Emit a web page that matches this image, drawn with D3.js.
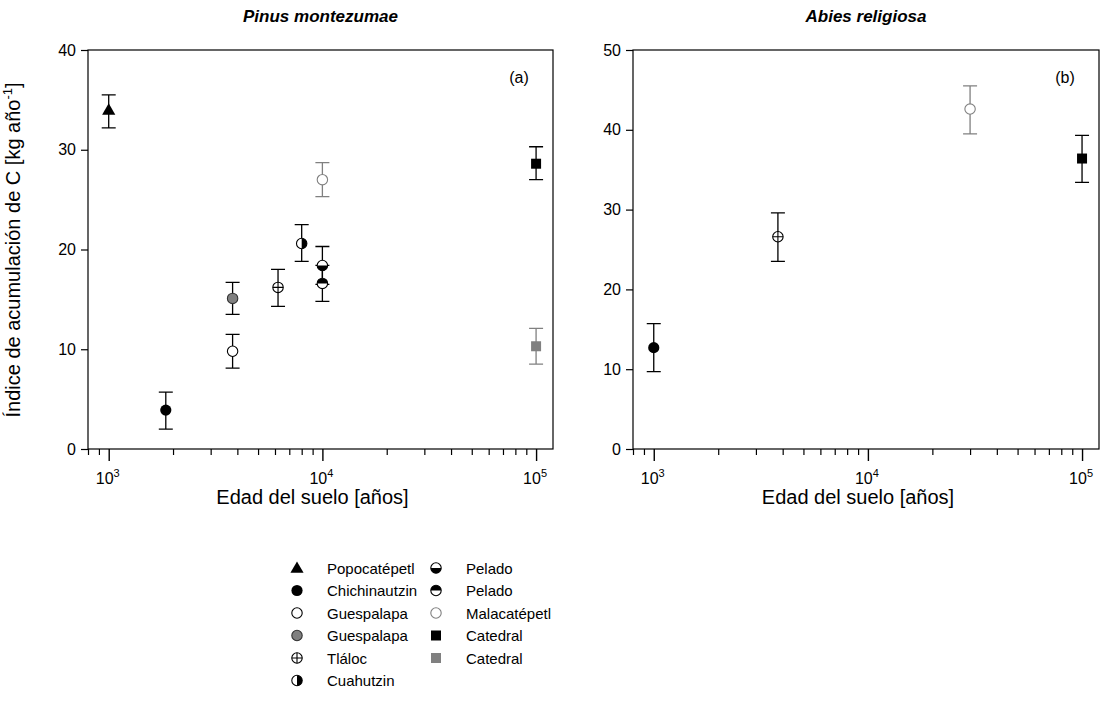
<!DOCTYPE html>
<html>
<head>
<meta charset="utf-8">
<script src="https://cdn.jsdelivr.net/npm/d3@7"></script>
<style>
  body { margin: 0; background: #fff; }
  svg { font-family: "Liberation Sans", Arial, sans-serif; }
</style>
</head>
<body>
<svg id="chart" width="1102" height="704"></svg>
<script>
// legend entries (index = marker key)
const legendLabels = ["Popocatépetl", "Chichinautzin", "Guespalapa", "Guespalapa", "Tláloc", "Cuahutzin",
                      "Pelado", "Pelado", "Malacatépetl", "Catedral", "Catedral"];

// Pinus montezumae
const pinusKey = [0, 1, 2, 3, 4, 5, 6, 7, 8, 9, 10];
const pinusAge = [1000, 1850, 3800, 3800, 6200, 8000, 10000, 10000, 10000, 100000, 100000];
const pinusC = [34.0, 3.9, 9.8, 15.1, 16.2, 20.6, 18.4, 16.6, 27.0, 28.6, 10.3];
const pinusLow = [32.2, 2.0, 8.1, 13.5, 14.3, 18.8, 16.5, 14.8, 25.3, 27.0, 8.5];
const pinusHigh = [35.5, 5.7, 11.5, 16.7, 18.0, 22.5, 20.3, 18.4, 28.7, 30.3, 12.1];

// Abies religiosa
const abiesKey = [1, 4, 8, 9];
const abiesAge = [1000, 3800, 30000, 100000];
const abiesC = [12.7, 26.6, 42.6, 36.4];
const abiesLow = [9.7, 23.5, 39.5, 33.4];
const abiesHigh = [15.7, 29.6, 45.5, 39.3];

const yTicksA = [0, 10, 20, 30, 40];
const yTicksB = [0, 10, 20, 30, 40, 50];
const xMajor = [1000, 10000, 100000];
const xExp = ["3", "4", "5"];

const gray = "#808080";
const svg = d3.select("#chart");

function marker(g, key, cx, cy) {
    let r = 5.2;
    let m = g.append("g").attr("transform", "translate(" + cx + "," + cy + ")");
    let sw = 1.1;
    if (key == 0) {
        m.append("path").attr("d", d3.symbol(d3.symbolTriangle, 75)()).attr("fill", "#000")
            .attr("transform", "translate(0,1)");
    } else if (key == 1) {
        m.append("circle").attr("r", r + 0.4).attr("fill", "#000");
    } else if (key == 2) {
        m.append("circle").attr("r", r).attr("fill", "#fff").attr("stroke", "#000").attr("stroke-width", sw);
    } else if (key == 3) {
        m.append("circle").attr("r", r).attr("fill", gray).attr("stroke", "#333").attr("stroke-width", sw);
    } else if (key == 4) {
        m.append("circle").attr("r", r).attr("fill", "#fff").attr("stroke", "#000").attr("stroke-width", sw);
        m.append("path").attr("d", `M${-r},0H${r}M0,${-r}V${r}`).attr("stroke", "#000").attr("stroke-width", sw);
    } else if (key >= 5 && key <= 7) {
        m.append("circle").attr("r", r).attr("fill", "#fff");
        let d;
        if (key == 5) d = `M0,${-r}A${r},${r} 0 0 1 0,${r}Z`;
        else if (key == 6) d = `M${-r},0A${r},${r} 0 0 0 ${r},0Z`;
        else d = `M${-r},0A${r},${r} 0 0 1 ${r},0Z`;
        m.append("path").attr("d", d).attr("fill", "#000");
        m.append("circle").attr("r", r).attr("fill", "none").attr("stroke", "#000").attr("stroke-width", sw);
    } else if (key == 8) {
        m.append("circle").attr("r", r).attr("fill", "#fff").attr("stroke", gray).attr("stroke-width", sw);
    } else if (key == 9) {
        m.append("rect").attr("x", -5).attr("y", -5).attr("width", 10).attr("height", 10).attr("fill", "#000");
    } else {
        m.append("rect").attr("x", -5).attr("y", -5).attr("width", 10).attr("height", 10).attr("fill", gray);
    }
}

function barColor(key) {
    return (key == 8 || key == 10) ? gray : "#000";
}

function drawPanel(opt) {
    let left = opt.left, top = 50, w = opt.width, h = 399;
    let g = svg.append("g").attr("transform", "translate(" + left + "," + top + ")");

    let x = d3.scaleLog().domain([800, 120000]).range([0, w]);
    let y = d3.scaleLinear().domain([0, opt.yMax]).range([h, 0]);

    // frame
    g.append("rect").attr("width", w).attr("height", h)
        .attr("fill", "none").attr("stroke", "#000").attr("stroke-width", 1.2);

    // y axis
    let ya = g.append("g")
        .call(d3.axisLeft(y).tickValues(opt.yTicks).tickSize(7).tickPadding(5).tickFormat(d3.format("d")));
    ya.select(".domain").remove();
    ya.selectAll("line").attr("stroke-width", 1.2);
    ya.selectAll("text").attr("font-size", 16).attr("font-family", "Liberation Sans, Arial").attr("fill", "#000");

    // x axis: minor ticks
    let minor = [];
    [100, 1000, 10000, 100000].forEach(b => {
        for (let k = 2; k <= 9; k++) {
            let v = b * k;
            if (v >= 800 && v <= 120000) minor.push(v);
        }
    });
    let xm = g.append("g").attr("transform", "translate(0," + h + ")")
        .call(d3.axisBottom(x).tickValues(minor).tickSize(6).tickFormat(""));
    xm.select(".domain").remove();
    xm.selectAll("line").attr("stroke-width", 1.2);

    let xa = g.append("g").attr("transform", "translate(0," + h + ")")
        .call(d3.axisBottom(x).tickValues(xMajor).tickSize(12).tickFormat(""));
    xa.select(".domain").remove();
    xa.selectAll("line").attr("stroke-width", 1.4);

    xMajor.forEach((v, i) => {
        let t = g.append("text").attr("x", x(v) - 1).attr("y", h + 35)
            .attr("text-anchor", "middle").attr("font-size", 16);
        t.append("tspan").text("10");
        t.append("tspan").attr("font-size", 11).attr("dy", -7).text(xExp[i]);
    });

    // titles
    svg.append("text").attr("x", left + w / 2).attr("y", 22).attr("text-anchor", "middle")
        .attr("font-size", 17).attr("font-weight", "bold").attr("font-style", "italic").text(opt.title);
    g.append("text").attr("x", w - 34).attr("y", 33).attr("text-anchor", "middle")
        .attr("font-size", 16).text(opt.tag);
    svg.append("text").attr("x", left + w / 2 - 8).attr("y", 504).attr("text-anchor", "middle")
        .attr("font-size", 20).text("Edad del suelo [años]");

    // error bars
    opt.key.forEach((k, i) => {
        let cx = x(opt.age[i]);
        let c = barColor(k);
        g.append("path")
            .attr("d", `M${cx},${y(opt.low[i])}V${y(opt.high[i])}M${cx - 7},${y(opt.low[i])}H${cx + 7}M${cx - 7},${y(opt.high[i])}H${cx + 7}`)
            .attr("stroke", c).attr("stroke-width", 1.3).attr("fill", "none");
    });
    opt.key.forEach((k, i) => marker(g, k, x(opt.age[i]), y(opt.val[i])));
}

drawPanel({left: 88, width: 465, yMax: 40, yTicks: yTicksA, title: "Pinus montezumae", tag: "(a)",
           key: pinusKey, age: pinusAge, val: pinusC, low: pinusLow, high: pinusHigh});
drawPanel({left: 633, width: 466, yMax: 50, yTicks: yTicksB, title: "Abies religiosa", tag: "(b)",
           key: abiesKey, age: abiesAge, val: abiesC, low: abiesLow, high: abiesHigh});

// y title
let yt = svg.append("text").attr("transform", "translate(20,250) rotate(-90)")
    .attr("text-anchor", "middle").attr("font-size", 20);
yt.append("tspan").text("Índice de acumulación de C [kg año");
yt.append("tspan").attr("font-size", 13).attr("dy", -8).text("-1");
yt.append("tspan").attr("dy", 8).text("]");

// legend
let lg = svg.append("g");
legendLabels.forEach((lab, i) => {
    let col = i < 6 ? 0 : 1;
    let row = i < 6 ? i : i - 6;
    let mx = col == 0 ? 297 : 436;
    let ly = 568 + row * 22.5;
    marker(lg, i, mx, ly);
    lg.append("text").attr("x", mx + 30).attr("y", ly + 5.5).attr("font-size", 15).text(lab);
});
</script>
</body>
</html>
